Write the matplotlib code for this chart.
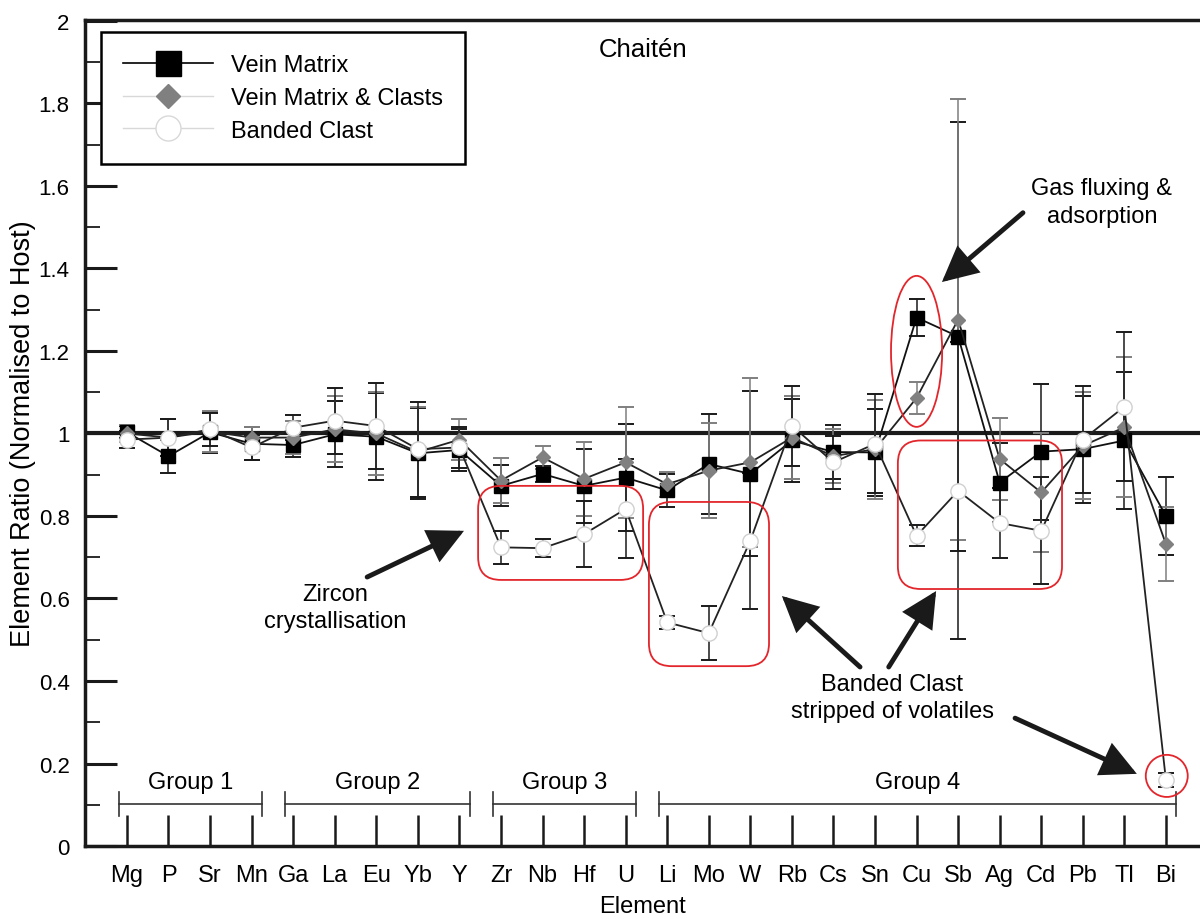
import numpy as np
import matplotlib
matplotlib.use("Agg")
import matplotlib.pyplot as plt
from matplotlib.patches import FancyBboxPatch, Ellipse, FancyArrowPatch
from matplotlib.lines import Line2D
from matplotlib.ticker import MultipleLocator

plt.rcParams["font.family"] = ["Liberation Sans", "DejaVu Sans"]

# ---- data -------------------------------------------------------------
elements = ["Mg", "P", "Sr", "Mn", "Ga", "La", "Eu", "Yb", "Y",
            "Zr", "Nb", "Hf", "U",
            "Li", "Mo", "W", "Rb", "Cs", "Sn", "Cu", "Sb", "Ag", "Cd", "Pb", "Tl", "Bi"]

vein_matrix = [1.003, 0.945, 1.003, 0.975, 0.972, 0.998, 0.992, 0.952, 0.960,
               0.873, 0.902, 0.873, 0.893,
               0.862, 0.926, 0.902, 0.983, 0.955, 0.954, 1.281, 1.235, 0.881,
               0.956, 0.962, 0.983, 0.800]
vein_matrix_err = [0.015, 0.040, 0.050, 0.040, 0.030, 0.080, 0.105, 0.110, 0.050,
                   0.050, 0.020, 0.090, 0.130,
                   0.040, 0.120, 0.200, 0.100, 0.065, 0.105, 0.045, 0.520, 0.095,
                   0.165, 0.130, 0.165, 0.095]

vein_clasts = [1.000, 0.990, 1.005, 0.990, 0.990, 1.010, 1.000, 0.955, 0.985,
               0.886, 0.942, 0.890, 0.930,
               0.877, 0.910, 0.930, 0.990, 0.945, 0.962, 1.086, 1.276, 0.938,
               0.857, 0.970, 1.015, 0.732]
vein_clasts_err = [0.020, 0.045, 0.050, 0.025, 0.040, 0.080, 0.100, 0.110, 0.050,
                   0.055, 0.028, 0.090, 0.135,
                   0.030, 0.115, 0.205, 0.100, 0.065, 0.120, 0.038, 0.535, 0.100,
                   0.145, 0.130, 0.170, 0.090]

banded_clast = [0.985, 0.990, 1.010, 0.966, 1.014, 1.031, 1.018, 0.962, 0.966,
                0.724, 0.722, 0.756, 0.817,
                0.542, 0.516, 0.740, 1.019, 0.930, 0.975, 0.752, 0.861, 0.783,
                0.764, 0.985, 1.065, 0.160]
banded_clast_err = [0.020, 0.045, 0.040, 0.030, 0.030, 0.080, 0.105, 0.115, 0.050,
                    0.040, 0.022, 0.080, 0.120,
                    0.016, 0.065, 0.165, 0.097, 0.065, 0.120, 0.025, 0.360, 0.085,
                    0.130, 0.130, 0.180, 0.018]

series_names = ["Vein Matrix", "Vein Matrix & Clasts", "Banded Clast"]

groups = ["Group 1", "Group 2", "Group 3", "Group 4"]
group_first = ["Mg", "Ga", "Zr", "Li"]
group_last = ["Mn", "Y", "U", "Bi"]

# ---- figure -----------------------------------------------------------
fig = plt.figure(figsize=(12, 9.2), dpi=100)
ax = fig.add_axes([0.0708, 0.0793, 0.9292, 0.8978])
x = np.arange(len(elements))

RED = "#e2262c"
INK = "#1a1a1a"

ax.axhline(1.0, color=INK, lw=3, zorder=2)

eb_kw = dict(fmt="none", elinewidth=1.1, capsize=5.5, capthick=1.4)
ax.errorbar(x, vein_matrix, yerr=vein_matrix_err, ecolor=INK, zorder=3, **eb_kw)
ax.errorbar(x, vein_clasts, yerr=vein_clasts_err, ecolor="#7f7f7f", zorder=3, **eb_kw)
ax.errorbar(x, banded_clast, yerr=banded_clast_err, ecolor=INK, zorder=3, **eb_kw)

ax.plot(x, vein_matrix, "-", color="#111111", lw=1.3, marker="s", ms=10,
        mfc="black", mec="black", zorder=4)
ax.plot(x, vein_clasts, "-", color="#222222", lw=1.3, marker="D", ms=7.5,
        mfc="#808080", mec="#808080", zorder=5)
ax.plot(x, banded_clast, "-", color="#222222", lw=1.3, marker="o", ms=11,
        mfc="white", mec="#d0d0d0", mew=1, zorder=6)

# ---- axes styling -----------------------------------------------------
ax.set_xlim(-1.01, 25.82)
ax.set_ylim(0, 2.002)
ax.set_xticks(x)
ax.set_xticklabels(elements, fontsize=17)
ax.tick_params(axis="x", direction="in", length=22, width=1.8, pad=13, color=INK)

yt = np.round(np.arange(0, 2.01, 0.2), 1)
ax.set_yticks(yt)
ax.set_yticklabels([("%g" % v) for v in yt], fontsize=16)
ax.yaxis.set_minor_locator(MultipleLocator(0.1))
ax.tick_params(axis="y", which="major", direction="in", length=23, width=2.2, pad=11, color=INK)
ax.tick_params(axis="y", which="minor", direction="in", length=11, width=1.3, color=INK)

for s in ["left", "bottom", "top"]:
    ax.spines[s].set_linewidth(2.5)
    ax.spines[s].set_color(INK)
ax.spines["right"].set_visible(False)

ax.set_ylabel("Element Ratio (Normalised to Host)", fontsize=19.5, va="center")
ax.yaxis.set_label_coords(-0.0555, 0.5)
ax.set_xlabel("Element", fontsize=17, va="center")
ax.xaxis.set_label_coords(0.5, -0.0726)

ax.text(12.42, 1.932, "Chaitén", ha="center", va="center", fontsize=18.5)

# ---- element group brackets -------------------------------------------
for name, a, b in zip(groups, group_first, group_last):
    x0 = elements.index(a) - 0.2
    x1 = elements.index(b) + 0.25
    ax.plot([x0, x1], [0.102, 0.102], color="#333333", lw=1.2, zorder=3)
    for xe in (x0, x1):
        ax.plot([xe, xe], [0.073, 0.131], color="#333333", lw=1.2, zorder=3)
    ax.text((x0 + x1) / 2, 0.155, name, ha="center", va="center", fontsize=17)

# ---- highlight boxes and circles --------------------------------------
aspect = 0.1008
for (bx0, bx1, by0, by1) in [(8.45, 12.42, 0.645, 0.873),
                             (12.56, 15.45, 0.436, 0.834),
                             (18.55, 22.50, 0.623, 0.983)]:
    ax.add_patch(FancyBboxPatch((bx0, by0), bx1 - bx0, by1 - by0,
                                boxstyle="round,pad=0,rounding_size=0.55",
                                mutation_aspect=aspect, ec=RED, fc="none",
                                lw=1.3, zorder=7))
ax.add_patch(Ellipse((19.0, 1.199), 1.23, 0.366, ec=RED, fc="none", lw=1.3, zorder=7))
ax.add_patch(Ellipse((25.02, 0.170), 1.01, 0.102, ec=RED, fc="none", lw=1.3, zorder=7))

# ---- annotations ------------------------------------------------------
def arrow(tail, tip):
    ax.add_patch(FancyArrowPatch(tail, tip,
                                 arrowstyle="-|>,head_length=1.0,head_width=0.5",
                                 mutation_scale=20, lw=3.5, color=INK,
                                 shrinkA=0, shrinkB=0, joinstyle="miter",
                                 zorder=8))

arrow((5.78, 0.652), (8.11, 0.764))
arrow((21.56, 1.535), (19.61, 1.367))
arrow((17.64, 0.434), (15.76, 0.606))
arrow((18.33, 0.434), (19.47, 0.618))
arrow((21.37, 0.310), (24.30, 0.175))

ax.text(5.0, 0.578, "Zircon\ncrystallisation", ha="center", va="center",
        fontsize=17, linespacing=1.3)
ax.text(23.46, 1.561, "Gas fluxing &\nadsorption", ha="center", va="center",
        fontsize=17, linespacing=1.3)
ax.text(18.41, 0.361, "Banded Clast\nstripped of volatiles", ha="center", va="center",
        fontsize=17, linespacing=1.3)

# ---- legend -----------------------------------------------------------
handles = [
    Line2D([], [], color="black", lw=1.2, marker="s", ms=18, mfc="black", mec="black"),
    Line2D([], [], color="#d8d8d8", lw=1, marker="D", ms=12.5, mfc="#808080", mec="#808080"),
    Line2D([], [], color="#d8d8d8", lw=1, marker="o", ms=18, mfc="white", mec="#d8d8d8"),
]
leg = ax.legend(handles, series_names, loc="upper left", bbox_to_anchor=(0.0143, 0.9855),
                borderaxespad=0, fontsize=17, handlelength=3.8, handletextpad=0.75,
                labelspacing=0.45, borderpad=0.95, fancybox=False, framealpha=1,
                edgecolor="black")
leg.get_frame().set_linewidth(1.8)
leg.set_zorder(10)

fig.savefig("out.png", dpi=100)
